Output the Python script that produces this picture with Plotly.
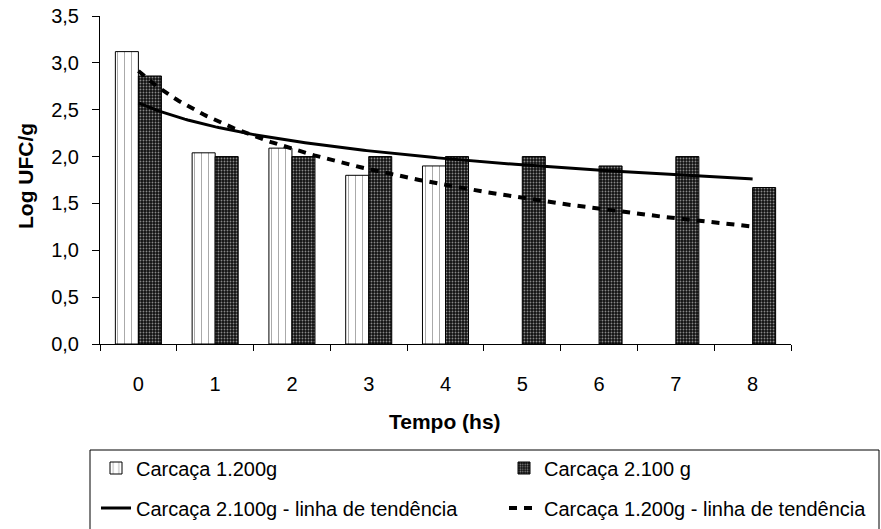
import numpy as np
import plotly.graph_objects as go

categories = ["0", "1", "2", "3", "4", "5", "6", "7", "8"]
carcaca_1200 = [3.12, 2.04, 2.09, 1.80, 1.90, None, None, None, None]
carcaca_2100 = [2.86, 2.00, 2.00, 2.00, 2.00, 2.00, 1.90, 2.00, 1.67]
y_ticks = [0.0, 0.5, 1.0, 1.5, 2.0, 2.5, 3.0, 3.5]

FONT = "Liberation Sans, Arial, sans-serif"
xpos = list(range(len(categories)))


def log_trend(values):
    # Excel-style logarithmic trendline: y = a*ln(x) + b, x = 1..n
    xs = np.array([i + 1 for i, v in enumerate(values) if v is not None], float)
    ys = np.array([v for v in values if v is not None], float)
    a, b = np.polyfit(np.log(xs), ys, 1)
    xx = np.linspace(0, len(values) - 1, 200)
    return xx, a * np.log(xx + 1) + b


fig = go.Figure()
fig.add_trace(go.Bar(
    x=xpos, y=carcaca_1200, name="Carcaça 1.200g", legend="legend",
    marker=dict(color="white", line=dict(color="black", width=1),
                pattern=dict(shape="|", fgcolor="#555555", bgcolor="white",
                             size=7, solidity=0.15)),
))
fig.add_trace(go.Bar(
    x=xpos, y=carcaca_2100, name="Carcaça 2.100 g", legend="legend2",
    marker=dict(color="#111111", line=dict(color="black", width=1),
                pattern=dict(shape=".", fgcolor="white", bgcolor="#111111",
                             size=3, solidity=0.3)),
))
tx, ty = log_trend(carcaca_2100)
fig.add_trace(go.Scatter(
    x=tx, y=ty, mode="lines", name="Carcaça 2.100g - linha de tendência",
    legend="legend3", line=dict(color="black", width=3),
))
tx, ty = log_trend(carcaca_1200)
fig.add_trace(go.Scatter(
    x=tx, y=ty, mode="lines", name="Carcaça 1.200g - linha de tendência",
    legend="legend4", line=dict(color="black", width=4, dash="8px,7px"),
))

L, R, T, B = 100, 90, 16, 185
W, H = 881, 529
pw, ph = W - L - R, H - T - B


def px(xp):
    return (xp - L) / pw


def py(yp):
    return 1 - (yp - T) / ph


def leg(xp, yp):
    return dict(orientation="h", x=px(xp), y=py(yp), xanchor="left", yanchor="middle",
                font=dict(size=20), borderwidth=0, bgcolor="rgba(0,0,0,0)")


fig.update_layout(
    width=W, height=H,
    margin=dict(l=L, r=R, t=T, b=B, autoexpand=False),
    paper_bgcolor="white", plot_bgcolor="white",
    font=dict(family=FONT, size=20, color="black"),
    separators=",.",
    barmode="group", bargap=0.4, bargroupgap=0,
    xaxis=dict(
        range=[-0.5, 8.5], tickmode="array", tickvals=xpos, ticktext=categories,
        ticks="outside", ticklen=0, tickcolor="rgba(0,0,0,0)",
        ticklabelstandoff=22, tickfont=dict(size=20),
        showline=True, linecolor="black", linewidth=1, showgrid=False,
        zeroline=False,
        minor=dict(tickmode="array", tickvals=[i - 0.5 for i in range(10)],
                   ticks="outside", ticklen=6, tickcolor="black", showgrid=False),
    ),
    yaxis=dict(
        range=[0, 3.5], tickmode="array", tickvals=y_ticks, tickformat=".1f",
        ticks="outside", ticklen=7, tickcolor="black", tickfont=dict(size=20),
        showline=True, linecolor="black", linewidth=1, showgrid=False,
        zeroline=False, ticklabelstandoff=9,
    ),
    showlegend=True,
    legend=leg(96, 468),
    legend2=leg(504, 468),
    legend3=leg(96, 508),
    legend4=leg(504, 508),
    annotations=[
        dict(text="<b>Tempo (hs)</b>", x=px(445), y=py(421), xref="paper", yref="paper",
             showarrow=False, font=dict(size=21), xanchor="center", yanchor="middle"),
        dict(text="<b>Log UFC/g</b>", x=px(25), y=py(176), xref="paper", yref="paper",
             showarrow=False, textangle=-90, font=dict(size=21),
             xanchor="center", yanchor="middle"),
    ],
    shapes=[
        dict(type="rect", xref="paper", yref="paper", x0=px(90), x1=px(879),
             y0=py(450), y1=py(540), line=dict(color="black", width=1),
             fillcolor="rgba(0,0,0,0)", layer="below"),
    ],
)

fig.write_html("out.html", config={"displayModeBar": False},
               post_script="document.body.style.margin='0';document.body.style.overflow='hidden';")
